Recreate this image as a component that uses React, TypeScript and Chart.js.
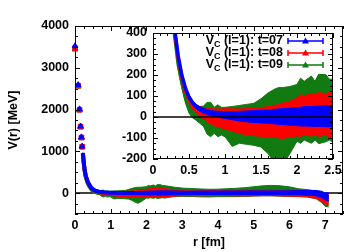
import React, { useEffect, useRef } from 'react';
import { Chart, registerables } from 'chart.js';

Chart.register(...registerables);

const BLUE = '#0000ff';
const RED = '#ff0000';
const GREEN = '#117a11';
const FONT_FAMILY = '"Liberation Sans", Arial, Helvetica, sans-serif';

// ---- data (r in fm, V in MeV) ----
const nearR = [0, 0.09, 0.127, 0.156, 0.18, 0.201];
const nearT07 = [3520, 2590, 2010, 1600, 1340, 1120];
const nearT08 = [3470, 2570, 1995, 1590, 1330, 1110];
const nearT09 = [3440, 2555, 1985, 1580, 1320, 1100];

const bandR = [
  0.22, 0.25, 0.27, 0.3, 0.35, 0.4, 0.45, 0.5, 0.55, 0.6,
  0.65, 0.7, 0.75, 0.8, 0.85, 0.9, 0.95, 1.0, 1.1, 1.2,
  1.3, 1.4, 1.5, 1.6, 1.7, 1.75, 1.8, 1.9, 2.0, 2.05,
  2.1, 2.2, 2.25, 2.3, 2.4, 2.45, 2.5, 2.75, 3.0, 3.25,
  3.5, 3.75, 4.0, 4.25, 4.5, 4.75, 5.0, 5.25, 5.5, 5.75,
  6.0, 6.25, 6.5, 6.75, 6.9, 7.0, 7.1,
];

const vT07 = [
  960, 700, 560, 420, 290, 200, 138, 95, 68, 50,
  38, 30, 24, 19, 16, 13, 11, 9, 6, 4,
  3, 2, 2, 2, 2, 2, 2, 2, 2, 2,
  3, 3, 3, 4, 4, 4, 4, 5, 5, 5,
  6, 6, 6, 6, 6, 7, 7, 7, 7, 8,
  8, 8, 6, 0, -30, -80, -90,
];
const eT07 = [
  10, 10, 10, 10, 10, 10, 10, 10, 10, 10,
  11, 11, 12, 12, 13, 14, 15, 16, 19, 23,
  26, 28, 30, 32, 35, 37, 38, 41, 43, 45,
  46, 47, 48, 48, 50, 50, 50, 45, 42, 40,
  40, 40, 40, 42, 42, 42, 44, 44, 45, 45,
  46, 48, 55, 65, 75, 85, 95,
];

const vT08 = [
  950, 690, 550, 408, 280, 190, 127, 85, 57, 39,
  27, 18, 10, 3, -1, -4, -7, -9, -14, -20,
  -22, -24, -24, -22, -20, -20, -18, -10, 0, 6,
  8, 10, 12, 12, 12, 10, 8, 5, 0, -5,
  -5, 0, 5, 5, 0, 0, 5, 10, 10, 5,
  0, 0, -10, -40, -90, -150, -160,
];
const eT08 = [
  18, 18, 18, 18, 17, 16, 16, 17, 18, 20,
  23, 26, 30, 36, 40, 42, 45, 48, 53, 58,
  62, 65, 68, 72, 76, 80, 84, 85, 90, 100,
  92, 102, 95, 105, 98, 108, 100, 80, 62, 58,
  60, 62, 64, 66, 66, 68, 70, 72, 72, 72,
  74, 76, 80, 90, 105, 115, 120,
];

const vT09 = [
  930, 670, 530, 390, 250, 165, 95, 50, 30, 18,
  10, 4, -6, -12, -16, -18, -20, -24, -45, -35,
  -35, -35, -28, -30, -45, -50, -45, -15, 20, 30,
  30, 35, 30, 38, 42, 35, 30, 30, 20, 15,
  5, 0, 5, 10, 15, 25, 40, 55, 60, 50,
  35, 10, -5, -40, -110, -190, -200,
];
const eT09 = [
  22, 22, 22, 22, 22, 24, 28, 32, 34, 34,
  40, 48, 75, 82, 62, 76, 66, 70, 95, 90,
  95, 100, 115, 145, 180, 190, 185, 160, 135, 155,
  140, 160, 140, 165, 160, 145, 150, 115, 100, 95,
  95, 92, 90, 95, 100, 105, 112, 120, 125, 125,
  115, 95, 88, 95, 115, 125, 130,
];

const mainXTicks = [0, 1, 2, 3, 4, 5, 6, 7];
const mainYTicks = [0, 1000, 2000, 3000, 4000];
const insetXTicks = [0, 0.5, 1, 1.5, 2, 2.5];
const insetYTicks = [-200, -100, 0, 100, 200, 300, 400];

const legendLabels = ['t=07', 't=08', 't=09'];
const legendColors = [BLUE, RED, GREEN];

// ---- helpers ----
function bandDatasets(v: number[], e: number[], color: string, lw: number) {
  return [
    {
      data: bandR.map((r, i) => ({ x: r, y: v[i] })),
      borderColor: color, borderWidth: lw, pointRadius: 0, fill: false, tension: 0,
    },
    {
      data: bandR.map((r, i) => ({ x: r, y: v[i] + e[i] })),
      borderColor: color, borderWidth: 1, pointRadius: 0, fill: false, tension: 0,
    },
    {
      data: bandR.map((r, i) => ({ x: r, y: v[i] - e[i] })),
      borderColor: color, borderWidth: 1, pointRadius: 0, fill: '-1', backgroundColor: color, tension: 0,
    },
  ];
}

function nearDataset(v: number[], color: string, style: string) {
  return {
    data: nearR.map((r, i) => ({ x: r, y: v[i] })),
    showLine: false, pointStyle: style, pointRadius: 3.3, backgroundColor: color,
    borderColor: color, borderWidth: 1, clip: false,
  };
}

function drawTicksAndFrame(chart: any, xMajor: number[], xMinor: number, yMajor: number[], yMinor: number) {
  const { ctx, chartArea: a, scales } = chart;
  const xs = scales.x, ys = scales.y;
  ctx.save();
  ctx.strokeStyle = '#000';
  ctx.lineWidth = 1;
  ctx.beginPath();
  const majLen = 5, minLen = 3;
  const xTick = (v: number, len: number) => {
    const px = Math.round(xs.getPixelForValue(v)) + 0.5;
    ctx.moveTo(px, a.bottom); ctx.lineTo(px, a.bottom - len);
    ctx.moveTo(px, a.top); ctx.lineTo(px, a.top + len);
  };
  const yTick = (v: number, len: number) => {
    const py = Math.round(ys.getPixelForValue(v)) + 0.5;
    ctx.moveTo(a.left, py); ctx.lineTo(a.left + len, py);
    ctx.moveTo(a.right, py); ctx.lineTo(a.right - len, py);
  };
  const nx = Math.round((xs.max - xs.min) / xMinor);
  for (let i = 0; i <= nx; i++) {
    const v = xs.min + i * xMinor;
    const isMaj = xMajor.some((m) => Math.abs(m - v) < 1e-6);
    xTick(v, isMaj ? majLen : minLen);
  }
  const ny = Math.round((ys.max - ys.min) / yMinor);
  for (let i = 0; i <= ny; i++) {
    const v = ys.min + i * yMinor;
    const isMaj = yMajor.some((m) => Math.abs(m - v) < 1e-6);
    yTick(v, isMaj ? majLen : minLen);
  }
  ctx.stroke();
  ctx.strokeRect(a.left + 0.5, a.top + 0.5, a.right - a.left - 1, a.bottom - a.top - 1);
  ctx.restore();
}

function drawZero(chart: any) {
  const { ctx, chartArea: a, scales } = chart;
  const py = scales.y.getPixelForValue(0);
  ctx.save();
  ctx.strokeStyle = '#000';
  ctx.lineWidth = 1.5;
  ctx.beginPath();
  ctx.moveTo(a.left, py);
  ctx.lineTo(a.right, py);
  ctx.stroke();
  ctx.restore();
}

const tickFont = { family: FONT_FAMILY, size: 12.5, weight: 'bold' as const };

function linScale(min: number, max: number, ticks: number[], pad: number, size: number, horizontal: boolean, title?: any) {
  return {
    type: 'linear' as const,
    min, max,
    afterBuildTicks: (s: any) => { s.ticks = ticks.map((v) => ({ value: v })); },
    afterFit: (s: any) => { if (horizontal) s.height = size; else s.width = size; },
    grid: { display: false, drawTicks: false },
    border: { display: false },
    ticks: {
      font: tickFont, color: '#000', padding: pad, autoSkip: false, maxRotation: 0,
      callback: (v: any) => String(v),
    },
    title: title || { display: false },
  };
}

export default function App() {
  const mainRef = useRef<HTMLCanvasElement>(null);
  const insetRef = useRef<HTMLCanvasElement>(null);

  useEffect(() => {
    const mainPlugin = {
      id: 'mainDecor',
      beforeDatasetsDraw: (c: any) => drawZero(c),
      afterDatasetsDraw: (c: any) => drawTicksAndFrame(c, mainXTicks, 0.25, mainYTicks, 250),
    };
    const main = new Chart(mainRef.current as HTMLCanvasElement, {
      type: 'line',
      data: {
        datasets: [
          nearDataset(nearT07, BLUE, 'triangle'),
          nearDataset(nearT08, RED, 'rect'),
          nearDataset(nearT09, GREEN, 'triangle'),
          ...bandDatasets(vT07, eT07, BLUE, 4),
          ...bandDatasets(vT08, eT08, RED, 4),
          ...bandDatasets(vT09, eT09, GREEN, 4),
        ] as any,
      },
      options: {
        animation: false,
        responsive: false,
        devicePixelRatio: 1,
        events: [],
        layout: { padding: { left: 0, right: 16, top: 26, bottom: 0 } },
        plugins: { legend: { display: false }, tooltip: { enabled: false } },
        scales: {
          x: linScale(0, 7.5, mainXTicks, 4, 38, true, {
            display: true, text: 'r [fm]', color: '#000', font: tickFont, padding: { top: 0, bottom: 2 },
          }),
          y: linScale(-500, 4000, mainYTicks, 6, 75, false, {
            display: true, text: 'V(r) [MeV]', color: '#000', font: tickFont, padding: { top: 6, bottom: 0 },
          }),
        },
      } as any,
      plugins: [mainPlugin],
    });

    const insetPlugin = {
      id: 'insetDecor',
      beforeDraw: (c: any) => {
        const { ctx, chartArea: a } = c;
        ctx.save();
        ctx.fillStyle = '#fff';
        ctx.fillRect(a.left, a.top, a.right - a.left, a.bottom - a.top);
        ctx.restore();
      },
      afterDatasetsDraw: (c: any) => {
        drawZero(c);
        drawTicksAndFrame(c, insetXTicks, 0.1, insetYTicks, 25);
        const ctx = c.ctx as CanvasRenderingContext2D;
        ctx.save();
        const big = `bold 12.5px ${FONT_FAMILY}`;
        const small = `bold 9px ${FONT_FAMILY}`;
        legendLabels.forEach((lab, i) => {
          const y = 41 + i * 12;
          const rest = ` (l=1): ${lab}`;
          ctx.font = big;
          const wV = ctx.measureText('V').width;
          const wR = ctx.measureText(rest).width;
          ctx.font = small;
          const wC = ctx.measureText('C').width;
          const xEnd = 283;
          const x0 = xEnd - wR - wC - wV;
          ctx.fillStyle = '#000';
          ctx.textBaseline = 'middle';
          ctx.textAlign = 'left';
          ctx.font = big;
          ctx.fillText('V', x0, y);
          ctx.font = small;
          ctx.fillText('C', x0 + wV, y + 3.5);
          ctx.font = big;
          ctx.fillText(rest, x0 + wV + wC, y);
          const col = legendColors[i];
          ctx.strokeStyle = col;
          ctx.fillStyle = col;
          ctx.lineWidth = 1.5;
          ctx.beginPath();
          ctx.moveTo(288, y); ctx.lineTo(323, y);
          ctx.moveTo(288, y - 3); ctx.lineTo(288, y + 3);
          ctx.moveTo(323, y - 3); ctx.lineTo(323, y + 3);
          ctx.stroke();
          ctx.beginPath();
          ctx.moveTo(305.5, y - 3.5);
          ctx.lineTo(309, y + 2.5);
          ctx.lineTo(302, y + 2.5);
          ctx.closePath();
          ctx.fill();
        });
        ctx.restore();
      },
    };
    const inset = new Chart(insetRef.current as HTMLCanvasElement, {
      type: 'line',
      data: {
        datasets: [
          ...bandDatasets(vT07, eT07, BLUE, 3.5),
          ...bandDatasets(vT08, eT08, RED, 3.5),
          ...bandDatasets(vT09, eT09, GREEN, 3.5),
        ] as any,
      },
      options: {
        animation: false,
        responsive: false,
        devicePixelRatio: 1,
        events: [],
        layout: { padding: { left: 0, right: 26, top: 33, bottom: 73 } },
        plugins: { legend: { display: false }, tooltip: { enabled: false } },
        scales: {
          x: linScale(0, 2.5, insetXTicks, 4, 20, true),
          y: linScale(-200, 400, insetYTicks, 6, 153, false),
        },
      } as any,
      plugins: [insetPlugin],
    });

    return () => {
      main.destroy();
      inset.destroy();
    };
  }, []);

  return (
    <div style={{ position: 'fixed', left: 0, top: 0, width: 359, height: 252, background: '#fff' }}>
      <canvas ref={mainRef} width={359} height={252} style={{ position: 'absolute', left: 0, top: 0 }} />
      <canvas ref={insetRef} width={359} height={252} style={{ position: 'absolute', left: 0, top: 0 }} />
    </div>
  );
}
